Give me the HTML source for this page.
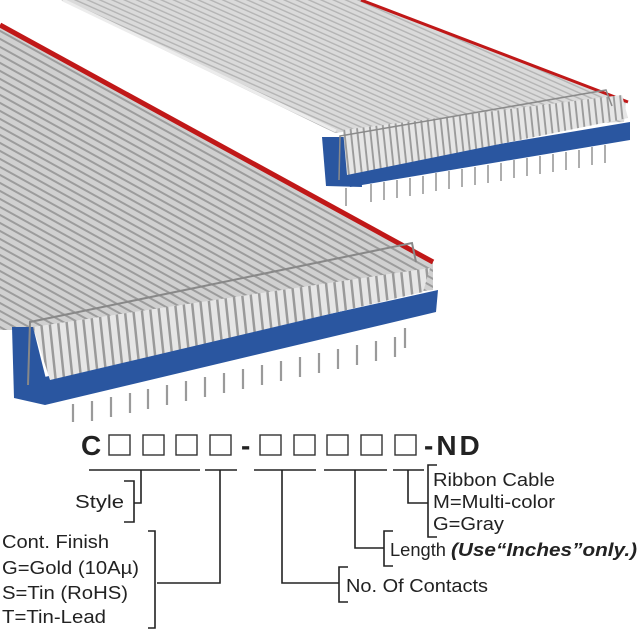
<!DOCTYPE html><html><head><style>body{margin:0;background:#fff}svg{display:block}</style></head><body>
<svg width="640" height="640" viewBox="0 0 640 640" xmlns="http://www.w3.org/2000/svg" font-family="Liberation Sans, sans-serif">
<defs>
<pattern id="pb" patternUnits="userSpaceOnUse" width="5" height="5" patternTransform="rotate(24)"><rect width="5" height="5" fill="#dadada"/><rect y="3.6" width="5" height="1.4" fill="#b4b4b4"/></pattern>
<pattern id="pf" patternUnits="userSpaceOnUse" width="7" height="7" patternTransform="rotate(29)"><rect width="7" height="7" fill="#d0d0d0"/><rect y="5" width="7" height="2" fill="#9c9c9c"/></pattern>
<pattern id="lf" patternUnits="userSpaceOnUse" width="8.5" height="9" patternTransform="skewX(6)"><rect width="8.5" height="9" fill="#e6e6e6"/><rect x="6" width="2.5" height="9" fill="#9a9a9a"/></pattern>
<pattern id="lb" patternUnits="userSpaceOnUse" width="6.5" height="9" patternTransform="skewX(6)"><rect width="6.5" height="9" fill="#e6e6e6"/><rect x="4.6" width="1.9" height="9" fill="#9a9a9a"/></pattern>
</defs>
<!-- back cable -->
<polygon points="61,0 361,0 626,100 624,122 343,132 335,133" fill="url(#pb)"/>
<line x1="63" y1="0" x2="336" y2="131" stroke="#ececec" stroke-width="3"/>
<line x1="361" y1="0" x2="628" y2="102" stroke="#c01818" stroke-width="3"/>
<polygon points="322,137 359,137 362,187 326,186" fill="#2a56a0"/>
<polygon points="345,170 630,122 630,140 350,187" fill="#2a56a0"/>
<polygon points="343,130 622,95 628,118 347,175" fill="url(#lb)"/>
<polyline points="339,180 340,136 606,90 612,106" fill="none" stroke="#8a8a8a" stroke-width="1.5"/>
<g stroke="#9a9a9a" stroke-width="1.6"><path d="M346 188v18M371 184v18M384 182v18M397 180v18M410 178v18M423 176v18M436 173v18M449 171v18M462 169v18M475 167v18M488 165v18M501 163v18M514 160v18M527 158v18M540 156v18M553 154v18M566 152v18M579 150v18M592 147v18M605 145v18"/></g>
<!-- front cable -->
<polygon points="0,25 433,262 433,290 33,330 0,330" fill="url(#pf)"/>
<line x1="0" y1="25" x2="433" y2="262" stroke="#c01818" stroke-width="5"/>
<polygon points="12,327 33,327 50,395 45,405 14,398" fill="#2a56a0"/>
<polygon points="40,378 438,290 436,312 45,405" fill="#2a56a0"/>
<polygon points="33,327 430,268 423,292 50,380" fill="url(#lf)"/>
<polyline points="28,385 30,322 412,243 416,262" fill="none" stroke="#888" stroke-width="2"/>
<g stroke="#9a9a9a" stroke-width="2.2"><path d="M73 404v18M92 401v20M111 397v20M130 393v20M148 389v20M167 385v20M186 381v20M205 377v20M224 373v20M243 369v20M262 365v20M281 361v20M300 357v20M319 353v20M338 349v20M357 345v20M376 341v20M395 337v20M405 328v20"/></g>
<!-- part number -->
<g font-size="28" font-weight="bold" fill="#222">
<text x="81" y="455">C</text>
<text x="241" y="455">-</text>
<text x="424" y="455" letter-spacing="3">-ND</text>
</g>
<g fill="none" stroke="#333" stroke-width="1.4">
<rect x="109" y="435" width="21" height="20"/><rect x="143" y="435" width="21" height="20"/><rect x="176" y="435" width="21" height="20"/><rect x="210" y="435" width="21" height="20"/>
<rect x="260" y="435" width="21" height="20"/><rect x="294" y="435" width="21" height="20"/><rect x="327" y="435" width="21" height="20"/><rect x="361" y="435" width="21" height="20"/><rect x="395" y="435" width="21" height="20"/>
</g>
<g stroke="#222" stroke-width="1.6" fill="none">
<path d="M89 470h111M205 470h32M254 470h62M324 470h63M393 470h31"/>
<path d="M141 470v33h-7M124 481h10v41h-10"/>
<path d="M220 470v113h-63M148 531h7v97h-7"/>
<path d="M282 470v113h57M348 567h-9v35h9"/>
<path d="M355 470v78h29M393 531h-9v35h9"/>
<path d="M408 470v33h20M437 465h-9v72h9"/>
</g>
<g font-size="18" fill="#222">
<text x="75" y="508" textLength="49" lengthAdjust="spacingAndGlyphs">Style</text>
<text x="2" y="548" textLength="107" lengthAdjust="spacingAndGlyphs">Cont. Finish</text>
<text x="2" y="574" textLength="137" lengthAdjust="spacingAndGlyphs">G=Gold (10Aµ)</text>
<text x="2" y="599" textLength="126" lengthAdjust="spacingAndGlyphs">S=Tin (RoHS)</text>
<text x="2" y="623" textLength="104" lengthAdjust="spacingAndGlyphs">T=Tin-Lead</text>
<text x="346" y="592" textLength="142" lengthAdjust="spacingAndGlyphs">No. Of Contacts</text>
<text x="390" y="556" textLength="56" lengthAdjust="spacingAndGlyphs">Length</text>
<text x="451" y="556" font-weight="bold" font-style="italic" textLength="186" lengthAdjust="spacingAndGlyphs">(Use“Inches”only.)</text>
<text x="433" y="486" textLength="122" lengthAdjust="spacingAndGlyphs">Ribbon Cable</text>
<text x="433" y="508" textLength="122" lengthAdjust="spacingAndGlyphs">M=Multi-color</text>
<text x="433" y="530" textLength="71" lengthAdjust="spacingAndGlyphs">G=Gray</text>
</g>
</svg></body></html>
